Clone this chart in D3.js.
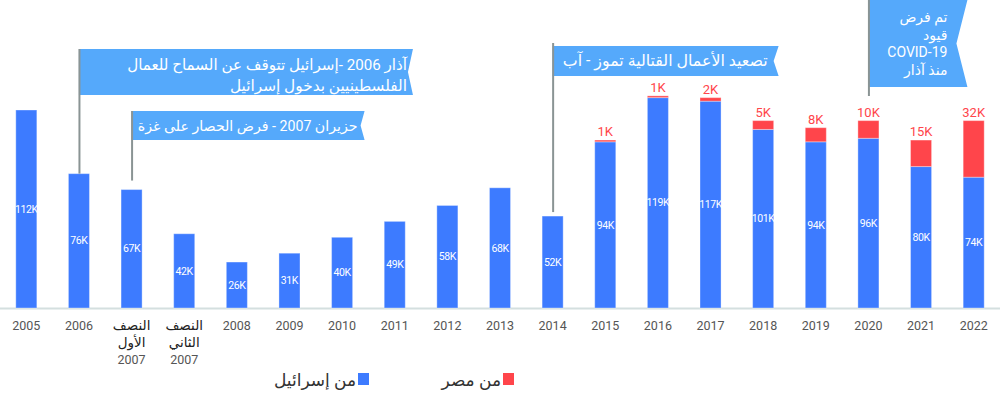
<!DOCTYPE html>
<html>
<head>
<meta charset="utf-8">
<script src="https://cdn.jsdelivr.net/npm/d3@7"></script>
<style>
  html, body { margin: 0; padding: 0; background: #fff; }
  svg { display: block; font-family: Roboto, "DejaVu Sans", sans-serif; }
</style>
</head>
<body>
<div id="chart"></div>
<script>
// Data
const categories = ["2005", "2006", "H1-2007", "H2-2007", "2008", "2009", "2010", "2011", "2012",
  "2013", "2014", "2015", "2016", "2017", "2018", "2019", "2020", "2021", "2022"];
const tickLabels = [["2005"], ["2006"], ["النصف", "الأول", "2007"], ["النصف", "الثاني", "2007"],
  ["2008"], ["2009"], ["2010"], ["2011"], ["2012"], ["2013"], ["2014"], ["2015"], ["2016"],
  ["2017"], ["2018"], ["2019"], ["2020"], ["2021"], ["2022"]];
const fromIsrael = [112, 76, 67, 42, 26, 31, 40, 49, 58, 68, 52, 94, 119, 117, 101, 94, 96, 80, 74];
const fromEgypt = [0, 0, 0, 0, 0, 0, 0, 0, 0, 0, 0, 1, 1, 2, 5, 8, 10, 15, 32];
const legendLabels = ["من مصر", "من إسرائيل"];

const annotationCats = ["2006", "H1-2007", "2014", "2020"];
const annotationTexts = [
  ["آذار 2006 -إسرائيل تتوقف عن السماح للعمال", "الفلسطينيين بدخول إسرائيل"],
  ["حزيران 2007 - فرض الحصار على غزة"],
  ["تصعيد الأعمال القتالية تموز - آب"],
  ["تم فرض", "قيود", "COVID-19", "منذ آذار"]
];

// Layout
const W = 1000, H = 394;
const baseY = 308;
const colors = { israel: "#3d7bff", egypt: "#ff454b", flag: "#55a9fb", stem: "#8a9494", axis: "#d4dfdf" };
const flagLayout = [
  { top: 49, bottom: 95, width: 334, notch: 5, pad: 1, lineH: 21, base: 70, size: 15, fit: [280, 177], stemTop: 49, gap: 0 },
  { top: 111, bottom: 140, width: 233, notch: 4, pad: 3, lineH: 0, base: 131, size: 15, fit: [220], stemTop: 111, gap: 9 },
  { top: 46, bottom: 76, width: 226, notch: 5, pad: 6, lineH: 0, base: 66, size: 15, fit: [205], stemTop: 43, gap: 4 },
  { top: 0, bottom: 87, width: 99, notch: 11, pad: 9, lineH: 17.5, base: 22, size: 14, fit: null, stemTop: 0, gap: 0, stemBottom: 96 }
];

const x = d3.scaleBand().domain(categories).range([0, W]).paddingInner(0.6).paddingOuter(0.3);
const y = d3.scaleLinear().domain([0, 112]).range([baseY, 110]);

const svg = d3.select("#chart").append("svg")
  .attr("width", W).attr("height", H);

// Axis line
svg.append("line")
  .attr("x1", 0).attr("x2", W).attr("y1", baseY + 0.5).attr("y2", baseY + 0.5)
  .attr("stroke", colors.axis).attr("stroke-width", 2);

// Bars
const bars = svg.append("g");
categories.forEach((c, i) => {
  const bx = x(c), bw = x.bandwidth();
  const isr = fromIsrael[i], egy = fromEgypt[i];
  bars.append("rect")
    .attr("x", bx).attr("width", bw)
    .attr("y", y(isr)).attr("height", y(0) - y(isr))
    .attr("fill", colors.israel)
    .attr("stroke", "rgba(255,255,255,0.35)").attr("stroke-width", 1);
  if (egy > 0) {
    bars.append("rect")
      .attr("x", bx).attr("width", bw)
      .attr("y", y(isr + egy)).attr("height", y(isr) - y(isr + egy))
      .attr("fill", colors.egypt)
      .attr("stroke", "rgba(255,255,255,0.35)").attr("stroke-width", 1);
    bars.append("text")
      .attr("x", bx + bw / 2).attr("y", y(isr + egy) - 4)
      .attr("text-anchor", "middle").attr("font-size", 13)
      .attr("fill", colors.egypt)
      .text(egy + "K");
  }
  bars.append("text")
    .attr("x", bx + bw / 2).attr("y", (y(isr) + y(0)) / 2)
    .attr("dy", "0.35em")
    .attr("text-anchor", "middle").attr("font-size", 10.5)
    .attr("letter-spacing", -0.4)
    .attr("fill", "#fff")
    .text(isr + "K");
});

// X tick labels
const ticks = svg.append("g");
categories.forEach((c, i) => {
  const t = ticks.append("text")
    .attr("x", x(c) + x.bandwidth() / 2).attr("y", 330)
    .attr("text-anchor", "middle").attr("font-size", 12.5);
  tickLabels[i].forEach((line, j) => {
    const isArabic = /[\u0600-\u06FF]/.test(line);
    t.append("tspan")
      .attr("x", x(c) + x.bandwidth() / 2)
      .attr("dy", j === 0 ? 0 : 17)
      .attr("fill", isArabic ? "#222" : "#555")
      .attr("font-size", isArabic ? 13.5 : 12.5)
      .text(line);
  });
});

// Annotations
const ann = svg.append("g");
annotationCats.forEach((c, i) => {
  const L = flagLayout[i];
  const i2 = categories.indexOf(c);
  const cx = x(c) + x.bandwidth() / 2;
  const x1 = cx + L.width;
  const mid = (L.top + L.bottom) / 2;
  ann.append("path")
    .attr("d", `M${cx},${L.top}H${x1}L${x1 - L.notch},${mid}L${x1},${L.bottom}H${cx}Z`)
    .attr("fill", colors.flag);
  const stemBottom = L.stemBottom != null ? L.stemBottom : y(fromIsrael[i2] + fromEgypt[i2]) - L.gap;
  ann.append("line")
    .attr("x1", cx + 0.5).attr("x2", cx + 0.5)
    .attr("y1", L.stemTop).attr("y2", stemBottom)
    .attr("stroke", colors.stem).attr("stroke-width", 2);
  annotationTexts[i].forEach((line, j) => {
    const t = ann.append("text")
      .attr("x", x1 - L.notch - L.pad)
      .attr("y", L.base + j * (L.lineH || 0))
      .attr("direction", "rtl")
      .attr("text-anchor", "start")
      .attr("font-size", L.size)
      .attr("fill", "#fff")
      .text(line);
    // fit text to the width it takes in the original banner
    if (L.fit) {
      const w = t.node().getComputedTextLength();
      if (w > 0) t.attr("font-size", L.size * L.fit[j] / w);
    }
  });
});

// Legend
const legend = svg.append("g");
const legendItems = [
  { label: legendLabels[0], color: colors.egypt, sq: 503 },
  { label: legendLabels[1], color: colors.israel, sq: 358 }
];
legendItems.forEach(d => {
  legend.append("rect")
    .attr("x", d.sq).attr("y", 373).attr("width", 11).attr("height", 12)
    .attr("fill", d.color);
  legend.append("text")
    .attr("x", d.sq - 2).attr("y", 386)
    .attr("direction", "rtl").attr("text-anchor", "start")
    .attr("font-size", 17).attr("fill", "#333")
    .text(d.label);
});
</script>
</body>
</html>
